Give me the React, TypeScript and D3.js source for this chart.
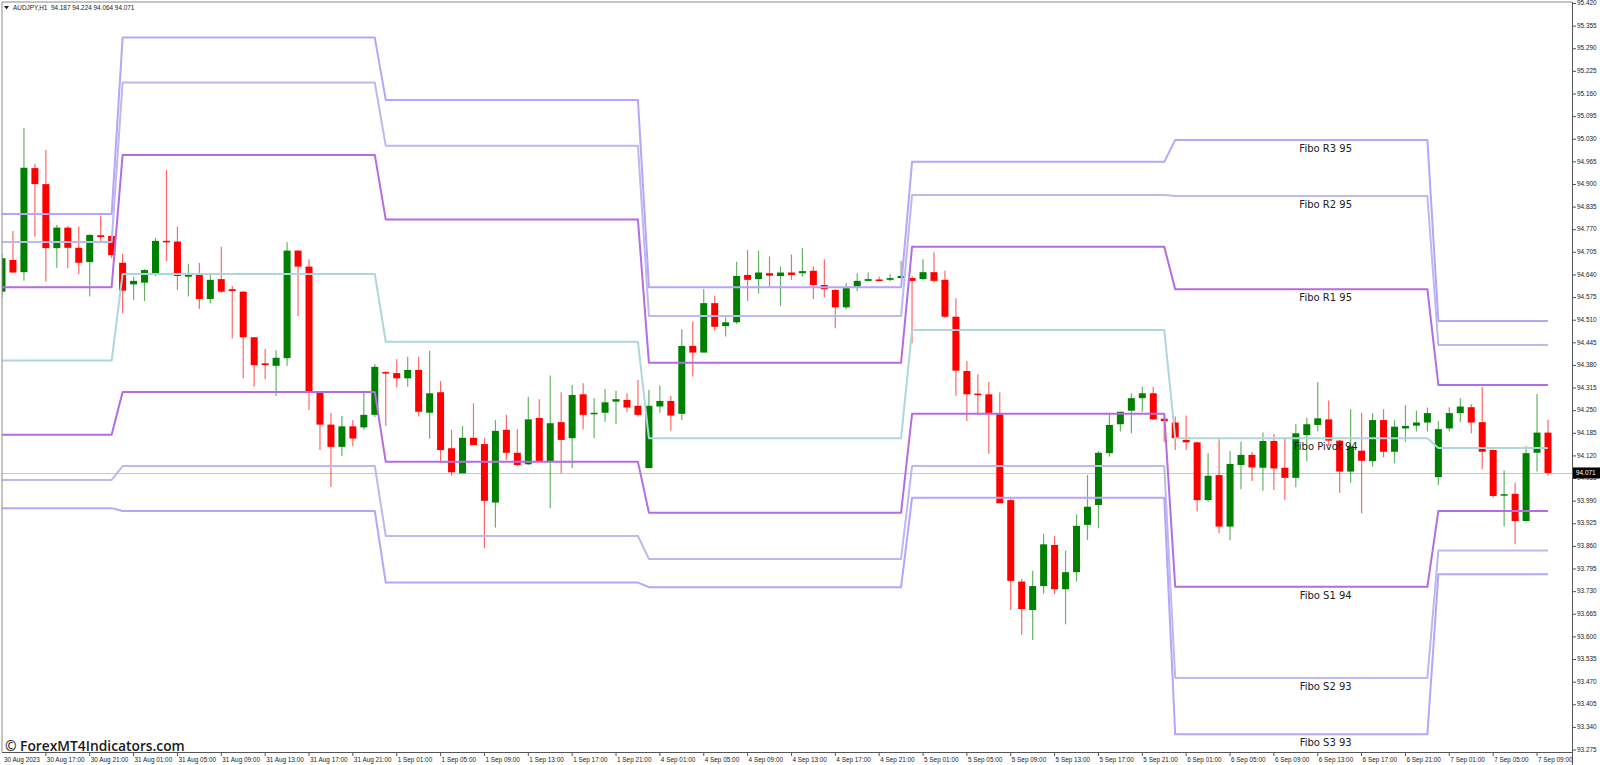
import React from 'react';
import * as d3 from 'd3';

// ---------- DATA ----------
const headerText = 'AUDJPY,H1  94.187 94.224 94.064 94.071';
const watermark = '\u00A9 ForexMT4Indicators.com';
const lastPrice = 94.071;

// first bar = 30 Aug 13:00 (H1 bars)
const dayStart = [0, 11, 35, 59, 83, 107, 131];

const opens = [
  94.592, 94.683, 94.648, 94.947, 94.901, 94.717, 94.776, 94.718, 94.677, 94.754,
  94.752, 94.675, 94.613, 94.618, 94.645, 94.738, 94.736, 94.635, 94.643, 94.571,
  94.628, 94.599, 94.592, 94.461, 94.386, 94.379, 94.401, 94.710, 94.664, 94.304,
  94.210, 94.146, 94.205, 94.202, 94.238, 94.361, 94.358, 94.343, 94.367, 94.244,
  94.303, 94.142, 94.070, 94.172, 94.154, 93.986, 94.195, 94.129, 94.096, 94.229,
  94.103, 94.217, 94.171, 94.297, 94.240, 94.244, 94.276, 94.281, 94.264, 94.085,
  94.262, 94.278, 94.241, 94.436, 94.417, 94.559, 94.493, 94.504, 94.640, 94.628,
  94.645, 94.637, 94.647, 94.645, 94.652, 94.611, 94.597, 94.547, 94.607, 94.623,
  94.627, 94.626, 94.631, 94.631, 94.628, 94.648, 94.626, 94.520, 94.364, 94.299,
  94.297, 94.240, 93.993, 93.759, 93.677, 93.746, 93.864, 93.737, 93.786, 93.922,
  93.979, 94.128, 94.211, 94.250, 94.286, 94.300, 94.227, 94.216, 94.166, 94.159,
  93.993, 94.065, 93.917, 94.094, 94.123, 94.086, 94.163, 94.086, 94.057, 94.180,
  94.209, 94.225, 94.164, 94.075, 94.135, 94.105, 94.223, 94.132, 94.199, 94.207,
  94.216, 94.059, 94.199, 94.243, 94.260, 94.217, 94.137, 94.006, 94.011, 93.933,
  94.129, 94.187,
];
const highs = [
  94.700, 94.766, 95.062, 94.959, 94.999, 94.784, 94.781, 94.779, 94.757, 94.810,
  94.755, 94.700, 94.635, 94.657, 94.747, 94.942, 94.779, 94.672, 94.674, 94.642,
  94.721, 94.608, 94.593, 94.461, 94.427, 94.424, 94.734, 94.710, 94.685, 94.304,
  94.243, 94.235, 94.223, 94.307, 94.384, 94.363, 94.398, 94.405, 94.405, 94.422,
  94.335, 94.195, 94.206, 94.271, 94.171, 94.223, 94.238, 94.197, 94.290, 94.283,
  94.351, 94.303, 94.324, 94.329, 94.286, 94.312, 94.307, 94.300, 94.338, 94.310,
  94.322, 94.292, 94.484, 94.506, 94.600, 94.580, 94.518, 94.678, 94.712, 94.710,
  94.693, 94.664, 94.699, 94.717, 94.664, 94.685, 94.599, 94.616, 94.645, 94.647,
  94.635, 94.642, 94.680, 94.637, 94.685, 94.705, 94.652, 94.573, 94.393, 94.355,
  94.333, 94.303, 93.998, 93.766, 93.790, 93.896, 93.890, 93.848, 93.952, 94.065,
  94.134, 94.244, 94.247, 94.300, 94.319, 94.319, 94.230, 94.233, 94.236, 94.161,
  94.128, 94.168, 94.134, 94.161, 94.132, 94.187, 94.183, 94.171, 94.212, 94.230,
  94.332, 94.279, 94.166, 94.254, 94.244, 94.243, 94.254, 94.223, 94.266, 94.250,
  94.259, 94.221, 94.260, 94.286, 94.269, 94.317, 94.139, 94.078, 94.043, 94.149,
  94.298, 94.224,
];
const lows = [
  94.575, 94.646, 94.623, 94.750, 94.621, 94.661, 94.659, 94.642, 94.578, 94.736,
  94.688, 94.530, 94.568, 94.565, 94.637, 94.680, 94.597, 94.578, 94.542, 94.559,
  94.589, 94.458, 94.343, 94.319, 94.340, 94.292, 94.379, 94.522, 94.252, 94.137,
  94.031, 94.120, 94.148, 94.195, 94.232, 94.207, 94.317, 94.319, 94.233, 94.169,
  94.099, 94.063, 94.070, 94.151, 93.855, 93.914, 94.108, 94.091, 94.094, 94.103,
  93.970, 94.070, 94.085, 94.197, 94.171, 94.218, 94.212, 94.247, 94.233, 94.085,
  94.244, 94.193, 94.223, 94.348, 94.417, 94.480, 94.463, 94.499, 94.566, 94.587,
  94.606, 94.551, 94.626, 94.635, 94.571, 94.575, 94.487, 94.541, 94.594, 94.621,
  94.622, 94.622, 94.631, 94.444, 94.626, 94.619, 94.516, 94.293, 94.220, 94.238,
  94.126, 93.984, 93.677, 93.606, 93.591, 93.725, 93.723, 93.636, 93.759, 93.878,
  93.912, 94.118, 94.190, 94.185, 94.247, 94.223, 94.161, 94.137, 94.137, 93.960,
  93.988, 93.898, 93.878, 94.024, 94.048, 94.020, 94.022, 93.993, 94.030, 94.105,
  94.190, 94.149, 94.014, 94.043, 93.955, 94.089, 94.116, 94.099, 94.161, 94.190,
  94.190, 94.037, 94.190, 94.217, 94.185, 94.082, 94.000, 93.917, 93.866, 93.931,
  94.075, 94.064,
];
const closes = [
  94.688, 94.647, 94.948, 94.901, 94.717, 94.776, 94.718, 94.675, 94.755, 94.749,
  94.697, 94.595, 94.623, 94.654, 94.738, 94.736, 94.637, 94.642, 94.571, 94.626,
  94.592, 94.594, 94.461, 94.381, 94.381, 94.402, 94.710, 94.664, 94.305, 94.210,
  94.146, 94.205, 94.170, 94.238, 94.376, 94.357, 94.343, 94.367, 94.247, 94.300,
  94.137, 94.073, 94.172, 94.151, 93.991, 94.192, 94.129, 94.094, 94.225, 94.105,
  94.214, 94.166, 94.295, 94.238, 94.244, 94.274, 94.283, 94.259, 94.238, 94.264,
  94.278, 94.236, 94.436, 94.417, 94.559, 94.491, 94.504, 94.637, 94.626, 94.647,
  94.638, 94.647, 94.640, 94.651, 94.611, 94.599, 94.547, 94.602, 94.623, 94.628,
  94.623, 94.631, 94.637, 94.623, 94.648, 94.623, 94.520, 94.365, 94.297, 94.295,
  94.241, 93.984, 93.761, 93.680, 93.746, 93.866, 93.737, 93.786, 93.919, 93.974,
  94.129, 94.209, 94.247, 94.286, 94.300, 94.225, 94.220, 94.171, 94.159, 93.993,
  94.063, 93.917, 94.097, 94.123, 94.087, 94.163, 94.084, 94.057, 94.185, 94.211,
  94.228, 94.164, 94.075, 94.147, 94.106, 94.223, 94.132, 94.204, 94.206, 94.216,
  94.243, 94.197, 94.243, 94.262, 94.216, 94.132, 94.005, 94.010, 93.933, 94.128,
  94.187, 94.071,
];

// daily Fibonacci pivot levels (one value per day)
const levelR3 = [94.815, 95.322, 95.143, 94.605, 94.965, 95.028, 94.508];
const levelR2 = [94.735, 95.193, 95.011, 94.522, 94.870, 94.867, 94.439];
const levelR1 = [94.605, 94.985, 94.799, 94.388, 94.721, 94.599, 94.324];
const levelP  = [94.394, 94.643, 94.448, 94.171, 94.482, 94.171, 94.143];
const levelS1 = [94.181, 94.304, 94.103, 93.957, 94.241, 93.744, 93.962];
const levelS2 = [94.051, 94.091, 93.890, 93.824, 94.091, 93.482, 93.848];
const levelS3 = [93.970, 93.962, 93.756, 93.743, 94.000, 93.320, 93.780];

const priceTicks = [
  '95.420', '95.355', '95.290', '95.225', '95.160', '95.095', '95.030', '94.965',
  '94.900', '94.835', '94.770', '94.705', '94.640', '94.575', '94.510', '94.445',
  '94.380', '94.315', '94.250', '94.185', '94.120', '94.055', '93.990', '93.925',
  '93.860', '93.795', '93.730', '93.665', '93.600', '93.535', '93.470', '93.405',
  '93.340', '93.275',
];

const timeLabelBars = [
  4, 8, 12, 16, 20, 24, 28, 32, 36, 40, 44, 48, 52, 56, 60, 64, 68, 72,
  76, 80, 84, 88, 92, 96, 100, 104, 108, 112, 116, 120, 124, 128, 132, 136, 140,
];
const timeLabels = [
  '30 Aug 17:00', '30 Aug 21:00', '31 Aug 01:00', '31 Aug 05:00', '31 Aug 09:00',
  '31 Aug 13:00', '31 Aug 17:00', '31 Aug 21:00', '1 Sep 01:00', '1 Sep 05:00',
  '1 Sep 09:00', '1 Sep 13:00', '1 Sep 17:00', '1 Sep 21:00', '4 Sep 01:00',
  '4 Sep 05:00', '4 Sep 09:00', '4 Sep 13:00', '4 Sep 17:00', '4 Sep 21:00',
  '5 Sep 01:00', '5 Sep 05:00', '5 Sep 09:00', '5 Sep 13:00', '5 Sep 17:00',
  '5 Sep 21:00', '6 Sep 01:00', '6 Sep 05:00', '6 Sep 09:00', '6 Sep 13:00',
  '6 Sep 17:00', '6 Sep 21:00', '7 Sep 01:00', '7 Sep 05:00', '7 Sep 09:00',
];
const firstDateLabel = '30 Aug 2023';

const levelNames = ['R3', 'R2', 'R1', 'Pivot', 'S1', 'S2', 'S3'];
const labelDay = 5; // labels drawn on the 6 Sep segment
const labelBar = 121;

// ---------- STYLE ----------
const BULL = '#008000';
const BEAR = '#ff0000';
const levelColors = ['#b9a3fb', '#bcb9ec', '#b46ce2', '#afd6dc', '#b46ce2', '#bcb9ec', '#b9a3fb'];
const AX = '"Liberation Sans", Arial, sans-serif';
const AXS = 6.4;

export default function App() {
  const W = 1600;
  const H = 765;
  const left = 2;
  const top = 2;
  const axisX = 1572;
  const axisY = 752;
  const n = opens.length;

  const x = d3.scaleLinear().domain([0, n - 1]).range([2, 1548]);
  const y = d3.scaleLinear().domain([93.275, 95.42]).range([750, 3.5]);

  const dayOf = (i: number) => {
    let d = 0;
    for (let k = 0; k < dayStart.length; k++) if (i >= dayStart[k]) d = k;
    return d;
  };

  const levelSets = [levelR3, levelR2, levelR1, levelP, levelS1, levelS2, levelS3];
  const idx = d3.range(n);

  const bodyW = 7;

  return (
    <svg
      width={W}
      height={H}
      style={{ position: 'absolute', left: 0, top: 0, background: '#fff' }}
      xmlns="http://www.w3.org/2000/svg"
    >
      <rect x={0} y={0} width={W} height={H} fill="#ffffff" />
      <defs>
        <clipPath id="plot">
          <rect x={left} y={top} width={axisX - left} height={axisY - top} />
        </clipPath>
      </defs>

      {/* price line */}
      <line
        x1={left}
        x2={axisX}
        y1={Math.round(y(lastPrice)) + 0.5}
        y2={Math.round(y(lastPrice)) + 0.5}
        stroke="#c8c8c8"
        strokeWidth={1}
      />

      <g clipPath="url(#plot)">
        {/* candles */}
        {idx.map((i) => {
          const o = opens[i];
          const c = closes[i];
          const col = c >= o ? BULL : BEAR;
          const cx = x(i);
          const yTop = y(Math.max(o, c));
          const yBot = y(Math.min(o, c));
          const h = Math.max(1.5, yBot - yTop);
          return (
            <g key={i}>
              <line
                x1={cx}
                x2={cx}
                y1={y(highs[i])}
                y2={y(lows[i])}
                stroke={col}
                strokeWidth={1.2}
                strokeOpacity={0.6}
              />
              <rect x={cx - bodyW / 2} y={yTop} width={bodyW} height={h} fill={col} />
            </g>
          );
        })}

        {/* pivot lines */}
        {levelSets.map((vals, k) => {
          const gen = d3
            .line<number>()
            .x((i) => x(i))
            .y((i) => y(vals[dayOf(i)]));
          return (
            <path
              key={k}
              d={gen(idx) || ''}
              fill="none"
              stroke={levelColors[k]}
              strokeWidth={2}
              strokeLinejoin="round"
            />
          );
        })}
      </g>

      {/* level labels */}
      {levelSets.map((vals, k) => (
        <text
          key={k}
          x={x(labelBar) - 3}
          y={y(vals[labelDay]) + 9}
          textAnchor="middle"
          dominantBaseline="middle"
          fontFamily='"DejaVu Sans", Verdana, sans-serif'
          fontSize={10}
          fill="#222"
        >
          {`Fibo ${levelNames[k]} ${Math.round(vals[labelDay])}`}
        </text>
      ))}

      {/* frame */}
      <line x1={left} x2={axisX} y1={top} y2={top} stroke="#8a8a8a" strokeWidth={1} />
      <line x1={left} x2={left} y1={top} y2={axisY} stroke="#8a8a8a" strokeWidth={1} />
      <line x1={axisX + 0.5} x2={axisX + 0.5} y1={top} y2={H} stroke="#555" strokeWidth={1} />
      <line x1={left} x2={axisX} y1={axisY + 0.5} y2={axisY + 0.5} stroke="#555" strokeWidth={1} />

      {/* price axis */}
      {priceTicks.map((t) => {
        const ty = y(+t);
        return (
          <g key={t}>
            <line x1={axisX} x2={axisX + 4} y1={ty} y2={ty} stroke="#555" strokeWidth={1} />
            <text
              x={axisX + 5}
              y={ty}
              dominantBaseline="middle"
              fontFamily={AX}
              fontSize={AXS}
              fill="#222"
            >
              {t}
            </text>
          </g>
        );
      })}

      {/* last price box */}
      <rect x={axisX + 1} y={y(lastPrice) - 5.5} width={W - axisX - 1} height={11} fill="#000" />
      <text
        x={axisX + 4}
        y={y(lastPrice)}
        dominantBaseline="middle"
        fontFamily={AX}
        fontSize={AXS}
        fill="#fff"
      >
        {lastPrice.toFixed(3)}
      </text>

      {/* time axis */}
      <text x={4} y={761.5} fontFamily={AX} fontSize={AXS} fill="#222">
        {firstDateLabel}
      </text>
      {timeLabelBars.map((b, k) => (
        <g key={b}>
          <line x1={x(b)} x2={x(b)} y1={axisY} y2={axisY + 4} stroke="#555" strokeWidth={1} />
          <text x={x(b) + 1} y={761.5} fontFamily={AX} fontSize={AXS} fill="#222">
            {timeLabels[k]}
          </text>
        </g>
      ))}

      {/* header */}
      <path d="M4,6 L9,6 L6.5,9.5 Z" fill="#222" />
      <text
        x={13}
        y={8}
        dominantBaseline="middle"
        fontFamily={AX}
        fontSize={AXS}
        fill="#222"
        style={{ whiteSpace: 'pre' }}
      >
        {headerText}
      </text>

      {/* watermark */}
      <text
        x={5}
        y={751}
        fontFamily='"Open Sans", "Noto Sans", sans-serif'
        fontWeight={600}
        fontSize={13.8}
        fill="#1a1a1a"
      >
        {watermark}
      </text>
    </svg>
  );
}
